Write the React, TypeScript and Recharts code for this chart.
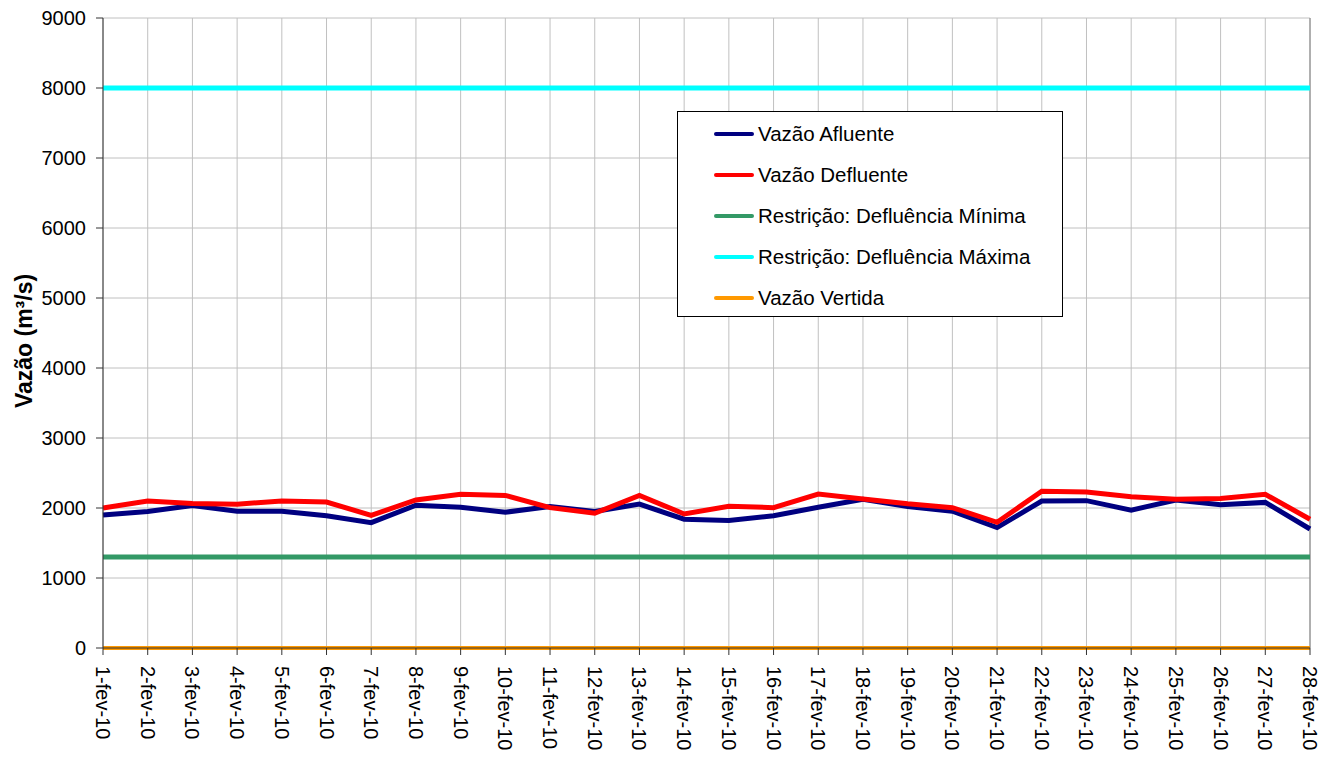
import React from 'react';
import { LineChart, Line, XAxis, YAxis, CartesianGrid, ReferenceLine } from 'recharts';

const categories = [
  '1-fev-10', '2-fev-10', '3-fev-10', '4-fev-10', '5-fev-10', '6-fev-10', '7-fev-10',
  '8-fev-10', '9-fev-10', '10-fev-10', '11-fev-10', '12-fev-10', '13-fev-10', '14-fev-10',
  '15-fev-10', '16-fev-10', '17-fev-10', '18-fev-10', '19-fev-10', '20-fev-10', '21-fev-10',
  '22-fev-10', '23-fev-10', '24-fev-10', '25-fev-10', '26-fev-10', '27-fev-10', '28-fev-10',
];

const vazaoAfluente = [
  1900, 1950, 2035, 1955, 1955, 1890, 1790, 2040, 2010, 1940, 2020, 1950, 2055, 1840,
  1820, 1890, 2010, 2125, 2020, 1955, 1720, 2100, 2105, 1970, 2115, 2045, 2080, 1700,
];

const vazaoDefluente = [
  2000, 2100, 2065, 2055, 2100, 2085, 1895, 2115, 2195, 2180, 2005, 1925, 2180, 1915,
  2025, 2005, 2200, 2130, 2060, 2005, 1795, 2240, 2230, 2160, 2125, 2135, 2195, 1840,
];

const defluenciaMinima = [
  1300, 1300, 1300, 1300, 1300, 1300, 1300, 1300, 1300, 1300, 1300, 1300, 1300, 1300,
  1300, 1300, 1300, 1300, 1300, 1300, 1300, 1300, 1300, 1300, 1300, 1300, 1300, 1300,
];

const defluenciaMaxima = [
  8000, 8000, 8000, 8000, 8000, 8000, 8000, 8000, 8000, 8000, 8000, 8000, 8000, 8000,
  8000, 8000, 8000, 8000, 8000, 8000, 8000, 8000, 8000, 8000, 8000, 8000, 8000, 8000,
];

const vazaoVertida = [
  0, 0, 0, 0, 0, 0, 0, 0, 0, 0, 0, 0, 0, 0,
  0, 0, 0, 0, 0, 0, 0, 0, 0, 0, 0, 0, 0, 0,
];

const yTicks = [0, 1000, 2000, 3000, 4000, 5000, 6000, 7000, 8000, 9000];

const series = [
  { key: 'afluente', name: 'Vazão Afluente', color: '#000080' },
  { key: 'defluente', name: 'Vazão Defluente', color: '#ff0000' },
  { key: 'minima', name: 'Restrição: Defluência Mínima', color: '#339966' },
  { key: 'maxima', name: 'Restrição: Defluência Máxima', color: '#00ffff' },
  { key: 'vertida', name: 'Vazão Vertida', color: '#ff9900' },
];

const data = categories.map((day, i) => ({
  day,
  afluente: vazaoAfluente[i],
  defluente: vazaoDefluente[i],
  minima: defluenciaMinima[i],
  maxima: defluenciaMaxima[i],
  vertida: vazaoVertida[i],
}));

const FONT = '"Liberation Sans", Arial, sans-serif';

const XTick = (props: any) => {
  const { x, y, payload } = props;
  return (
    <text
      x={x}
      y={y}
      transform={`rotate(90, ${x}, ${y})`}
      textAnchor="start"
      dominantBaseline="central"
      fontSize={20}
      fontFamily={FONT}
      fill="#000"
    >
      {payload.value}
    </text>
  );
};

// legend drawn as a plain box over the plot, like the spreadsheet one
const LegendBox = () => (
  <div
    style={{
      position: 'absolute',
      left: 669,
      top: 103,
      width: 386,
      height: 206,
      border: '1px solid #000',
      background: '#fff',
      fontFamily: FONT,
      fontSize: 20.5,
      color: '#000',
      boxSizing: 'border-box',
      paddingTop: 1,
    }}
  >
    {series.map((s) => (
      <div key={s.key} style={{ display: 'flex', alignItems: 'center', height: 41 }}>
        <div style={{ width: 40, height: 4, borderRadius: 2, background: s.color, marginLeft: 36, marginRight: 4 }} />
        <span>{s.name}</span>
      </div>
    ))}
  </div>
);

export default function App() {
  return (
    <div style={{ position: 'relative', width: 1314, height: 752, fontFamily: FONT }}>
      <LineChart
        width={1314}
        height={752}
        data={data}
        margin={{ top: 10, right: 12, left: 0, bottom: 7 }}
      >
        <CartesianGrid stroke="#c0c0c0" strokeWidth={1} />
        <XAxis
          dataKey="day"
          scale="point"
          padding={{ left: 0, right: 0 }}
          interval={0}
          height={105}
          tickSize={7}
          tickMargin={11}
          tick={<XTick />}
          axisLine={{ stroke: '#333' }}
          tickLine={{ stroke: '#333' }}
        />
        <YAxis
          domain={[0, 9000]}
          ticks={yTicks}
          interval={0}
          width={95}
          tickSize={7}
          tickMargin={10}
          tick={{ fontSize: 20, fill: '#000', fontFamily: FONT }}
          axisLine={{ stroke: '#333' }}
          tickLine={{ stroke: '#333' }}
        />
        <ReferenceLine x="28-fev-10" stroke="#808080" strokeWidth={1} />
        <Line dataKey="maxima" name="Restrição: Defluência Máxima" stroke="#00ffff" strokeWidth={5} dot={false} isAnimationActive={false} />
        <Line dataKey="minima" name="Restrição: Defluência Mínima" stroke="#339966" strokeWidth={5} dot={false} isAnimationActive={false} />
        <Line dataKey="afluente" name="Vazão Afluente" stroke="#000080" strokeWidth={5} dot={false} isAnimationActive={false} />
        <Line dataKey="defluente" name="Vazão Defluente" stroke="#ff0000" strokeWidth={5} dot={false} isAnimationActive={false} />
        <Line dataKey="vertida" name="Vazão Vertida" stroke="#ff9900" strokeWidth={4} dot={false} isAnimationActive={false} />
      </LineChart>
      <div
        style={{
          position: 'absolute',
          left: 16,
          top: 333,
          transform: 'translate(-50%, -50%) rotate(-90deg)',
          fontWeight: 'bold',
          fontSize: 23,
          whiteSpace: 'nowrap',
          color: '#000',
        }}
      >
        Vazão (m³/s)
      </div>
      <LegendBox />
    </div>
  );
}
